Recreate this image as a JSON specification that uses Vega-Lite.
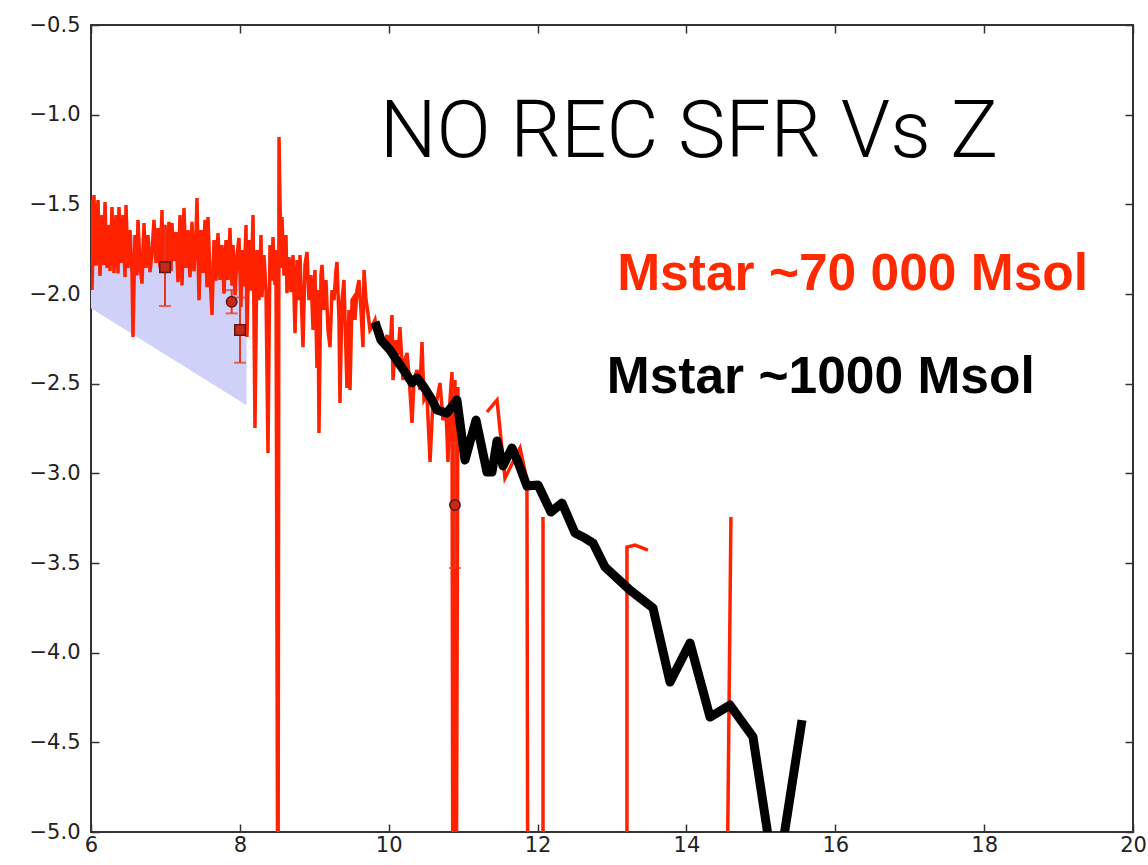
{
  "$schema": "https://vega.github.io/schema/vega-lite/v6.json",
  "width": 1042,
  "height": 807,
  "autosize": "none",
  "padding": {"left": 91, "top": 25, "right": 15, "bottom": 33},
  "background": "white",
  "config": {
    "view": {"stroke": "#333333", "strokeWidth": 2},
    "axis": {"grid": false, "domain": false, "labelFont": "DejaVu Sans", "labelFontSize": 21, "labelColor": "#222222", "tickColor": "#333333", "tickWidth": 1.5, "title": null}
  },
  "datasets": {
    "band": [
      {"z": 6.0, "top": -1.6, "bottom": -2.08},
      {"z": 8.09, "top": -1.87, "bottom": -2.62}
    ],
    "red": [
      {"z":6.000,"sfr":-1.476,"seg":1},{"z":6.013,"sfr":-1.978,"seg":1},{"z":6.040,"sfr":-1.448,"seg":1},{"z":6.067,"sfr":-1.842,"seg":1},{"z":6.094,"sfr":-1.476,"seg":1},{"z":6.121,"sfr":-1.899,"seg":1},{"z":6.148,"sfr":-1.560,"seg":1},{"z":6.175,"sfr":-1.839,"seg":1},{"z":6.188,"sfr":-1.487,"seg":1},{"z":6.215,"sfr":-1.855,"seg":1},{"z":6.242,"sfr":-1.615,"seg":1},{"z":6.255,"sfr":-1.872,"seg":1},{"z":6.282,"sfr":-1.515,"seg":1},{"z":6.309,"sfr":-1.883,"seg":1},{"z":6.336,"sfr":-1.560,"seg":1},{"z":6.363,"sfr":-1.886,"seg":1},{"z":6.376,"sfr":-1.515,"seg":1},{"z":6.403,"sfr":-1.827,"seg":1},{"z":6.430,"sfr":-1.560,"seg":1},{"z":6.457,"sfr":-1.905,"seg":1},{"z":6.470,"sfr":-1.504,"seg":1},{"z":6.497,"sfr":-1.855,"seg":1},{"z":6.524,"sfr":-1.643,"seg":1},
      {"z":6.551,"sfr":-1.882,"seg":1},{"z":6.564,"sfr":-2.240,"seg":1},{"z":6.591,"sfr":-1.671,"seg":1},{"z":6.618,"sfr":-1.896,"seg":1},{"z":6.631,"sfr":-1.587,"seg":1},{"z":6.658,"sfr":-1.833,"seg":1},{"z":6.685,"sfr":-1.942,"seg":1},{"z":6.712,"sfr":-1.604,"seg":1},{"z":6.739,"sfr":-1.855,"seg":1},{"z":6.766,"sfr":-1.671,"seg":1},{"z":6.793,"sfr":-1.878,"seg":1},{"z":6.820,"sfr":-1.766,"seg":1},{"z":6.846,"sfr":-1.587,"seg":1},{"z":6.873,"sfr":-1.827,"seg":1},{"z":6.900,"sfr":-1.632,"seg":1},{"z":6.927,"sfr":-1.853,"seg":1},{"z":6.954,"sfr":-1.532,"seg":1},{"z":6.967,"sfr":-1.850,"seg":1},{"z":6.994,"sfr":-1.615,"seg":1},
      {"z":7.021,"sfr":-1.827,"seg":1},{"z":7.048,"sfr":-1.598,"seg":1},{"z":7.075,"sfr":-1.872,"seg":1},{"z":7.088,"sfr":-1.604,"seg":1},{"z":7.115,"sfr":-1.815,"seg":1},{"z":7.142,"sfr":-1.654,"seg":1},{"z":7.169,"sfr":-1.934,"seg":1},{"z":7.196,"sfr":-1.560,"seg":1},{"z":7.223,"sfr":-1.952,"seg":1},{"z":7.249,"sfr":-1.520,"seg":1},{"z":7.276,"sfr":-1.855,"seg":1},{"z":7.303,"sfr":-1.643,"seg":1},{"z":7.330,"sfr":-1.906,"seg":1},{"z":7.357,"sfr":-1.598,"seg":1},{"z":7.384,"sfr":-1.873,"seg":1},{"z":7.411,"sfr":-1.671,"seg":1},{"z":7.424,"sfr":-1.465,"seg":1},{"z":7.451,"sfr":-2.034,"seg":1},{"z":7.478,"sfr":-1.643,"seg":1},{"z":7.505,"sfr":-1.882,"seg":1},{"z":7.532,"sfr":-1.587,"seg":1},{"z":7.558,"sfr":-1.962,"seg":1},{"z":7.572,"sfr":-1.571,"seg":1},{"z":7.599,"sfr":-1.899,"seg":1},{"z":7.626,"sfr":-2.117,"seg":1},{"z":7.653,"sfr":-1.699,"seg":1},{"z":7.679,"sfr":-1.926,"seg":1},{"z":7.706,"sfr":-1.660,"seg":1},{"z":7.733,"sfr":-1.922,"seg":1},{"z":7.760,"sfr":-1.727,"seg":1},{"z":7.787,"sfr":-1.998,"seg":1},{"z":7.814,"sfr":-1.699,"seg":1},{"z":7.841,"sfr":-1.922,"seg":1},{"z":7.867,"sfr":-1.632,"seg":1},{"z":7.894,"sfr":-1.953,"seg":1},{"z":7.908,"sfr":-1.727,"seg":1},{"z":7.935,"sfr":-2.006,"seg":1},{"z":7.962,"sfr":-1.783,"seg":1},{"z":7.988,"sfr":-1.688,"seg":1},{"z":8.015,"sfr":-2.073,"seg":1},{"z":8.029,"sfr":-1.755,"seg":1},{"z":8.056,"sfr":-1.957,"seg":1},{"z":8.083,"sfr":-1.615,"seg":1},
      {"z":8.096,"sfr":-2.240,"seg":1},{"z":8.123,"sfr":-1.699,"seg":1},{"z":8.150,"sfr":-1.982,"seg":1},{"z":8.177,"sfr":-1.560,"seg":1},{"z":8.203,"sfr":-2.747,"seg":1},{"z":8.230,"sfr":-1.755,"seg":1},{"z":8.257,"sfr":-2.034,"seg":1},{"z":8.284,"sfr":-1.671,"seg":1},{"z":8.297,"sfr":-2.017,"seg":1},{"z":8.324,"sfr":-1.783,"seg":1},{"z":8.351,"sfr":-1.978,"seg":1},{"z":8.378,"sfr":-2.887,"seg":1},{"z":8.405,"sfr":-1.727,"seg":1},{"z":8.432,"sfr":-1.926,"seg":1},{"z":8.445,"sfr":-1.682,"seg":1},{"z":8.472,"sfr":-1.950,"seg":1},{"z":8.485,"sfr":-1.755,"seg":1},{"z":8.512,"sfr":-6.0,"seg":1},{"z":8.526,"sfr":-1.125,"seg":1},{"z":8.553,"sfr":-1.855,"seg":1},{"z":8.566,"sfr":-1.571,"seg":1},{"z":8.593,"sfr":-1.898,"seg":1},{"z":8.620,"sfr":-1.671,"seg":1},{"z":8.633,"sfr":-1.995,"seg":1},{"z":8.660,"sfr":-1.794,"seg":1},{"z":8.687,"sfr":-1.990,"seg":1},
      {"z":8.714,"sfr":-1.783,"seg":1},{"z":8.741,"sfr":-2.218,"seg":1},{"z":8.768,"sfr":-1.810,"seg":1},{"z":8.795,"sfr":-2.034,"seg":1},{"z":8.808,"sfr":-1.783,"seg":1},{"z":8.835,"sfr":-2.145,"seg":1},{"z":8.848,"sfr":-2.296,"seg":1},{"z":8.875,"sfr":-1.838,"seg":1},{"z":8.902,"sfr":-1.766,"seg":1},{"z":8.929,"sfr":-2.034,"seg":1},{"z":8.956,"sfr":-1.894,"seg":1},{"z":8.983,"sfr":-2.201,"seg":1},{"z":9.009,"sfr":-1.866,"seg":1},{"z":9.036,"sfr":-2.413,"seg":1},{"z":9.050,"sfr":-1.978,"seg":1},{"z":9.063,"sfr":-2.775,"seg":1},{"z":9.090,"sfr":-1.894,"seg":1},{"z":9.104,"sfr":-1.838,"seg":1},{"z":9.131,"sfr":-2.089,"seg":1},{"z":9.157,"sfr":-1.922,"seg":1},{"z":9.184,"sfr":-2.201,"seg":1},{"z":9.211,"sfr":-2.296,"seg":1},{"z":9.238,"sfr":-1.978,"seg":1},{"z":9.265,"sfr":-2.034,"seg":1},{"z":9.292,"sfr":-1.866,"seg":1},{"z":9.305,"sfr":-1.822,"seg":1},{"z":9.332,"sfr":-2.145,"seg":1},{"z":9.345,"sfr":-2.608,"seg":1},{"z":9.372,"sfr":-2.034,"seg":1},{"z":9.399,"sfr":-1.922,"seg":1},{"z":9.413,"sfr":-2.145,"seg":1},{"z":9.439,"sfr":-2.524,"seg":1},{"z":9.466,"sfr":-2.089,"seg":1},{"z":9.480,"sfr":-2.535,"seg":1},{"z":9.507,"sfr":-2.034,"seg":1},{"z":9.533,"sfr":-2.017,"seg":1},{"z":9.547,"sfr":-2.145,"seg":1},{"z":9.574,"sfr":-1.978,"seg":1},{"z":9.601,"sfr":-1.922,"seg":1},{"z":9.627,"sfr":-2.089,"seg":1},{"z":9.654,"sfr":-2.296,"seg":1},{"z":9.668,"sfr":-1.866,"seg":1},{"z":9.695,"sfr":-2.034,"seg":1},{"z":9.721,"sfr":-2.106,"seg":1},{"z":9.748,"sfr":-2.201,"seg":1},{"z":9.775,"sfr":-2.184,"seg":1},
      {"z":9.816,"sfr":-2.145,"seg":1},{"z":9.856,"sfr":-2.257,"seg":1},{"z":9.896,"sfr":-2.201,"seg":1},{"z":9.937,"sfr":-2.284,"seg":1},{"z":9.977,"sfr":-2.229,"seg":1},{"z":10.017,"sfr":-2.312,"seg":1},{"z":10.044,"sfr":-2.117,"seg":1},{"z":10.057,"sfr":-2.480,"seg":1},{"z":10.098,"sfr":-2.257,"seg":1},{"z":10.125,"sfr":-2.340,"seg":1},{"z":10.151,"sfr":-2.184,"seg":1},{"z":10.192,"sfr":-2.480,"seg":1},{"z":10.219,"sfr":-2.368,"seg":1},{"z":10.246,"sfr":-2.329,"seg":1},{"z":10.272,"sfr":-2.452,"seg":1},{"z":10.313,"sfr":-2.719,"seg":1},{"z":10.340,"sfr":-2.480,"seg":1},{"z":10.380,"sfr":-2.424,"seg":1},{"z":10.420,"sfr":-2.535,"seg":1},{"z":10.447,"sfr":-2.268,"seg":1},{"z":10.474,"sfr":-2.591,"seg":1},{"z":10.514,"sfr":-2.563,"seg":1},{"z":10.555,"sfr":-2.937,"seg":1},{"z":10.595,"sfr":-2.591,"seg":1},{"z":10.635,"sfr":-2.619,"seg":1},{"z":10.689,"sfr":-2.496,"seg":1},{"z":10.729,"sfr":-2.703,"seg":1},{"z":10.770,"sfr":-2.647,"seg":1},{"z":10.796,"sfr":-2.937,"seg":1},{"z":10.823,"sfr":-2.591,"seg":1},{"z":10.850,"sfr":-2.435,"seg":1},{"z":10.863,"sfr":-6.0,"seg":1},{"z":10.890,"sfr":-2.480,"seg":1},{"z":10.904,"sfr":-6.0,"seg":1},{"z":10.930,"sfr":-2.519,"seg":1},
      {"z":11.320,"sfr":-2.658,"seg":2},{"z":11.455,"sfr":-2.591,"seg":2},{"z":11.562,"sfr":-3.026,"seg":2},{"z":11.764,"sfr":-2.859,"seg":2},{"z":11.857,"sfr":-3.037,"seg":2},{"z":11.871,"sfr":-6.0,"seg":2},
      {"z":12.073,"sfr":-3.243,"seg":3},{"z":12.073,"sfr":-6.0,"seg":3},
      {"z":13.201,"sfr":-6.0,"seg":4},{"z":13.201,"sfr":-3.411,"seg":4},{"z":13.309,"sfr":-3.400,"seg":4},{"z":13.483,"sfr":-3.428,"seg":4},
      {"z":14.531,"sfr":-6.0,"seg":5},{"z":14.598,"sfr":-3.243,"seg":5}
    ],
    "black": [
      {"z":9.816,"sfr":-2.156},{"z":9.896,"sfr":-2.257},{"z":10.017,"sfr":-2.312},{"z":10.125,"sfr":-2.379},{"z":10.246,"sfr":-2.452},{"z":10.313,"sfr":-2.496},{"z":10.380,"sfr":-2.468},{"z":10.474,"sfr":-2.519},{"z":10.581,"sfr":-2.591},{"z":10.649,"sfr":-2.647},{"z":10.783,"sfr":-2.664},{"z":10.917,"sfr":-2.591},{"z":11.025,"sfr":-2.926},{"z":11.173,"sfr":-2.703},{"z":11.320,"sfr":-2.993},{"z":11.388,"sfr":-2.993},{"z":11.455,"sfr":-2.820},{"z":11.535,"sfr":-2.959},{"z":11.656,"sfr":-2.859},{"z":11.737,"sfr":-2.937},{"z":11.858,"sfr":-3.071},{"z":12.006,"sfr":-3.065},{"z":12.180,"sfr":-3.216},{"z":12.328,"sfr":-3.166},{"z":12.503,"sfr":-3.333},{"z":12.637,"sfr":-3.361},{"z":12.745,"sfr":-3.389},{"z":12.906,"sfr":-3.522},{"z":13.242,"sfr":-3.651},{"z":13.551,"sfr":-3.751},{"z":13.779,"sfr":-4.164},{"z":14.048,"sfr":-3.946},{"z":14.317,"sfr":-4.359},{"z":14.585,"sfr":-4.292},{"z":14.894,"sfr":-4.470},{"z":15.203,"sfr":-5.31},{"z":15.553,"sfr":-4.376}
    ],
    "obs": [
      {"z": 6.994, "sfr": -1.851, "lo": -2.067, "hi": -1.635, "kind": "square"},
      {"z": 7.890, "sfr": -2.043, "lo": -2.108, "hi": -1.978, "kind": "circle"},
      {"z": 8.002, "sfr": -2.201, "lo": -2.383, "hi": -2.020, "kind": "square"},
      {"z": 10.890, "sfr": -3.177, "lo": -3.528, "hi": -2.830, "kind": "circle"}
    ],
    "one": [{"k": 1}]
  },
  "resolve": {"axis": {"x": "independent", "y": "independent"}},
  "layer": [
    {
      "data": {"name": "band"},
      "mark": {"type": "area", "color": "#d0d1f8", "opacity": 1, "clip": true},
      "encoding": {
        "x": {"field": "z", "type": "quantitative", "scale": {"domain": [6, 20], "nice": false, "zero": false},
              "axis": {"orient": "bottom", "values": [6, 8, 10, 12, 14, 16, 18, 20], "labels": false, "ticks": true, "tickSize": 8, "offset": -8}},
        "y": {"field": "top", "type": "quantitative", "scale": {"domain": [-5, -0.5], "nice": false, "zero": false},
              "axis": {"orient": "left", "values": [-5, -4.5, -4, -3.5, -3, -2.5, -2, -1.5, -1, -0.5], "labels": false, "ticks": true, "tickSize": 8, "offset": -8}},
        "y2": {"field": "bottom"}
      }
    },
    {
      "data": {"name": "red"},
      "mark": {"type": "line", "color": "#ff2200", "strokeWidth": 3.5, "clip": true, "strokeJoin": "miter"},
      "encoding": {
        "x": {"field": "z", "type": "quantitative", "scale": {"domain": [6, 20], "nice": false, "zero": false},
              "axis": {"orient": "bottom", "values": [6, 8, 10, 12, 14, 16, 18, 20], "format": "d", "ticks": false, "tickSize": 0, "labelPadding": 2, "labelFlush": false}},
        "y": {"field": "sfr", "type": "quantitative", "scale": {"domain": [-5, -0.5], "nice": false, "zero": false},
              "axis": {"orient": "left", "values": [-5, -4.5, -4, -3.5, -3, -2.5, -2, -1.5, -1, -0.5], "format": ".1f", "ticks": false, "tickSize": 0, "labelPadding": 11, "labelFlush": false}},
        "detail": {"field": "seg", "type": "nominal"},
        "order": {"field": "z", "type": "quantitative"}
      }
    },
    {
      "data": {"name": "obs"},
      "mark": {"type": "rule", "color": "#e8361e", "strokeWidth": 2},
      "encoding": {
        "x": {"field": "z", "type": "quantitative", "axis": null},
        "y": {"field": "lo", "type": "quantitative", "axis": null},
        "y2": {"field": "hi"}
      }
    },
    {
      "data": {"name": "obs"},
      "mark": {"type": "tick", "orient": "horizontal", "color": "#e8361e", "size": 12, "thickness": 2},
      "encoding": {
        "x": {"field": "z", "type": "quantitative", "axis": null},
        "y": {"field": "lo", "type": "quantitative", "axis": null}
      }
    },
    {
      "data": {"name": "obs"},
      "mark": {"type": "tick", "orient": "horizontal", "color": "#e8361e", "size": 12, "thickness": 2},
      "encoding": {
        "x": {"field": "z", "type": "quantitative", "axis": null},
        "y": {"field": "hi", "type": "quantitative", "axis": null}
      }
    },
    {
      "data": {"name": "obs"},
      "mark": {"type": "point", "filled": true, "fill": "#c8281a", "stroke": "#5a1a10", "strokeWidth": 1.5, "size": 110, "opacity": 1},
      "encoding": {
        "x": {"field": "z", "type": "quantitative", "axis": null},
        "y": {"field": "sfr", "type": "quantitative", "axis": null},
        "shape": {"field": "kind", "type": "nominal", "scale": {"domain": ["square", "circle"], "range": ["square", "circle"]}, "legend": null}
      }
    },
    {
      "data": {"name": "black"},
      "mark": {"type": "line", "color": "#000000", "strokeWidth": 9, "clip": true, "strokeJoin": "round", "strokeCap": "butt"},
      "encoding": {
        "x": {"field": "z", "type": "quantitative", "scale": {"domain": [6, 20], "nice": false, "zero": false},
              "axis": {"orient": "top", "values": [6, 8, 10, 12, 14, 16, 18, 20], "labels": false, "ticks": true, "tickSize": 8, "offset": -8}},
        "y": {"field": "sfr", "type": "quantitative", "scale": {"domain": [-5, -0.5], "nice": false, "zero": false},
              "axis": {"orient": "right", "values": [-5, -4.5, -4, -3.5, -3, -2.5, -2, -1.5, -1, -0.5], "labels": false, "ticks": true, "tickSize": 8, "offset": -8}}
      }
    },
    {
      "data": {"name": "one"},
      "mark": {"type": "text", "text": "NO REC SFR Vs Z", "font": "Roboto", "fontWeight": 300, "fontSize": 80, "color": "#000000", "align": "left", "baseline": "alphabetic"},
      "encoding": {
        "x": {"datum": 9.88, "type": "quantitative", "axis": null},
        "y": {"datum": -1.236, "type": "quantitative", "axis": null}
      }
    },
    {
      "data": {"name": "one"},
      "mark": {"type": "text", "text": "Mstar ~70 000 Msol", "font": "Liberation Sans", "fontWeight": "bold", "fontSize": 51.5, "color": "#ff2a00", "align": "left", "baseline": "alphabetic"},
      "encoding": {
        "x": {"datum": 13.07, "type": "quantitative", "axis": null},
        "y": {"datum": -1.978, "type": "quantitative", "axis": null}
      }
    },
    {
      "data": {"name": "one"},
      "mark": {"type": "text", "text": "Mstar ~1000 Msol", "font": "Liberation Sans", "fontWeight": "bold", "fontSize": 51.5, "color": "#000000", "align": "left", "baseline": "alphabetic"},
      "encoding": {
        "x": {"datum": 12.93, "type": "quantitative", "axis": null},
        "y": {"datum": -2.552, "type": "quantitative", "axis": null}
      }
    }
  ]
}
